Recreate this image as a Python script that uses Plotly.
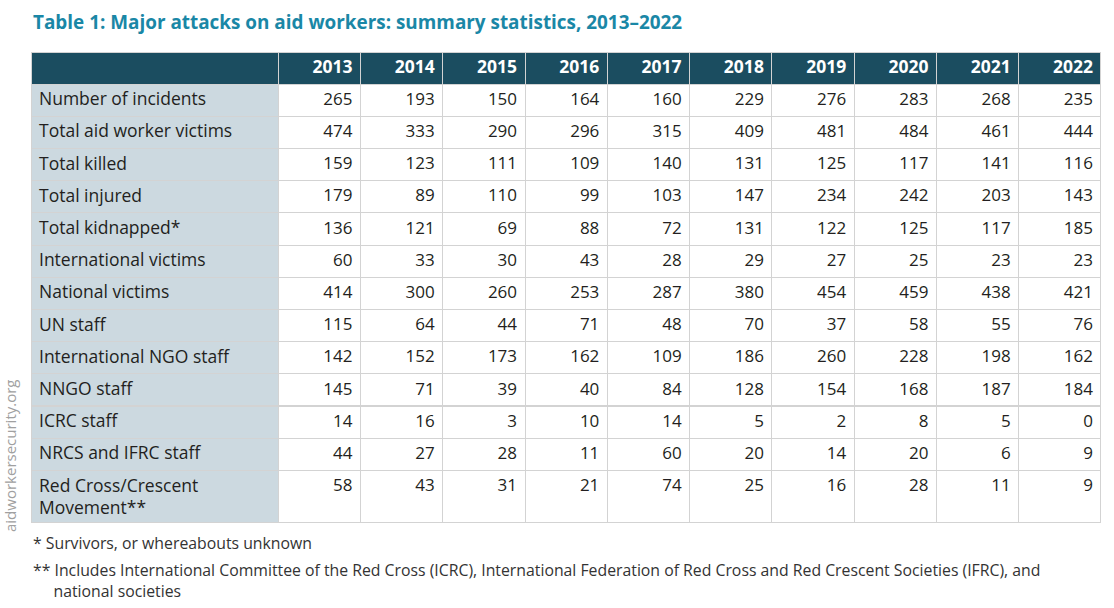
import plotly.graph_objects as go

years = ["2013", "2014", "2015", "2016", "2017", "2018", "2019", "2020", "2021", "2022"]
categories = [
    "Number of incidents", "Total aid worker victims", "Total killed", "Total injured",
    "Total kidnapped*", "International victims", "National victims", "UN staff",
    "International NGO staff", "NNGO staff", "ICRC staff", "NRCS and IFRC staff",
]
last_category = ["Red Cross/Crescent", "Movement**"]
number_of_incidents = [265, 193, 150, 164, 160, 229, 276, 283, 268, 235]
total_victims = [474, 333, 290, 296, 315, 409, 481, 484, 461, 444]
total_killed = [159, 123, 111, 109, 140, 131, 125, 117, 141, 116]
total_injured = [179, 89, 110, 99, 103, 147, 234, 242, 203, 143]
total_kidnapped = [136, 121, 69, 88, 72, 131, 122, 125, 117, 185]
international_victims = [60, 33, 30, 43, 28, 29, 27, 25, 23, 23]
national_victims = [414, 300, 260, 253, 287, 380, 454, 459, 438, 421]
un_staff = [115, 64, 44, 71, 48, 70, 37, 58, 55, 76]
intl_ngo_staff = [142, 152, 173, 162, 109, 186, 260, 228, 198, 162]
nngo_staff = [145, 71, 39, 40, 84, 128, 154, 168, 187, 184]
icrc_staff = [14, 16, 3, 10, 14, 5, 2, 8, 5, 0]
nrcs_ifrc_staff = [44, 27, 28, 11, 60, 20, 14, 20, 6, 9]
red_cross_movement = [58, 43, 31, 21, 74, 25, 16, 28, 11, 9]

rows = [number_of_incidents, total_victims, total_killed, total_injured, total_kidnapped,
        international_victims, national_victims, un_staff, intl_ngo_staff, nngo_staff,
        icrc_staff, nrcs_ifrc_staff]

title = "Table 1: Major attacks on aid workers: summary statistics, 2013–2022"
note1 = "* Survivors, or whereabouts unknown"
note2a = "** Includes International Committee of the Red Cross (ICRC), International Federation of Red Cross and Red Crescent Societies (IFRC), and"
note2b = "national societies"
watermark = "aidworkersecurity.org"

W, H = 1114, 608
HEADER_BG = "#1b4d60"
FIRST_COL_BG = "#ccd9e0"
LINE = "#d3d3d3"
TEXT = "#231f20"
TITLE_C = "#1a87a6"
NOTE_C = "#333333"
FONT = "Open Sans"
NCOL = len(years)
COLW = [247] + [82.2] * NCOL
ALIGN = ["left"] + ["right"] * NCOL
CELL_FONT = dict(family=FONT, size=[17.5] + [17] * NCOL, color=TEXT)


def px(x):
    return x / W


def py(y):
    return 1 - y / H


columns = [categories] + [[str(r[i]) for r in rows] for i in range(NCOL)]
fill_colors = [[FIRST_COL_BG] * len(categories)] + [["white"] * len(categories)] * NCOL

fig = go.Figure()
fig.add_trace(go.Table(
    domain=dict(x=[px(31), px(1101)], y=[py(471), py(52)]),
    columnwidth=COLW,
    header=dict(
        values=[""] + years,
        fill_color=HEADER_BG,
        line=dict(color=LINE, width=1),
        align=ALIGN,
        font=dict(family=FONT, size=17.5, color="white", weight="bold"),
        height=32,
    ),
    cells=dict(
        values=columns,
        fill_color=fill_colors,
        line=dict(color=LINE, width=1),
        align=ALIGN,
        font=CELL_FONT,
        height=32.2,
    ),
))

# last, two-line row drawn as a separate one-row table
last_vals = [last_category[0]] + [str(v) for v in red_cross_movement]
fig.add_trace(go.Table(
    domain=dict(x=[px(31), px(1101)], y=[0, py(470.4)]),
    columnwidth=COLW,
    header=dict(
        values=last_vals,
        fill_color=[FIRST_COL_BG] + ["white"] * NCOL,
        line=dict(color=LINE, width=1),
        align=ALIGN,
        font=CELL_FONT,
        height=52,
    ),
    cells=dict(values=[], height=0, line=dict(width=0)),
))

fig.add_annotation(text=last_category[1], x=px(37), y=py(507), xref="paper", yref="paper",
                   xanchor="left", yanchor="middle", showarrow=False,
                   font=dict(family=FONT, size=17.5, color=TEXT))
fig.add_annotation(text="<b>%s</b>" % title, x=px(31), y=py(22), xref="paper", yref="paper",
                   xanchor="left", yanchor="middle", showarrow=False,
                   font=dict(family=FONT, size=18.9, color=TITLE_C))
fig.add_annotation(text=note1, x=px(31), y=py(543), xref="paper", yref="paper",
                   xanchor="left", yanchor="middle", showarrow=False,
                   font=dict(family=FONT, size=15.8, color=NOTE_C))
fig.add_annotation(text=note2a + "<br>" + "&nbsp;" * 5 + note2b, x=px(31), y=py(580.5),
                   xref="paper", yref="paper", xanchor="left", yanchor="middle", align="left",
                   showarrow=False, font=dict(family=FONT, size=15.8, color=NOTE_C))
fig.add_annotation(text=watermark, x=px(10), y=py(456), xref="paper", yref="paper",
                   xanchor="center", yanchor="middle", showarrow=False, textangle=-90,
                   font=dict(family=FONT, size=15, color="#a0a0a0"))

fig.update_layout(width=W, height=H, margin=dict(l=0, r=0, t=0, b=0),
                  paper_bgcolor="white", plot_bgcolor="white")
fig.write_html("out.html", config={"displayModeBar": False},
               post_script="document.body.style.margin='0';")
